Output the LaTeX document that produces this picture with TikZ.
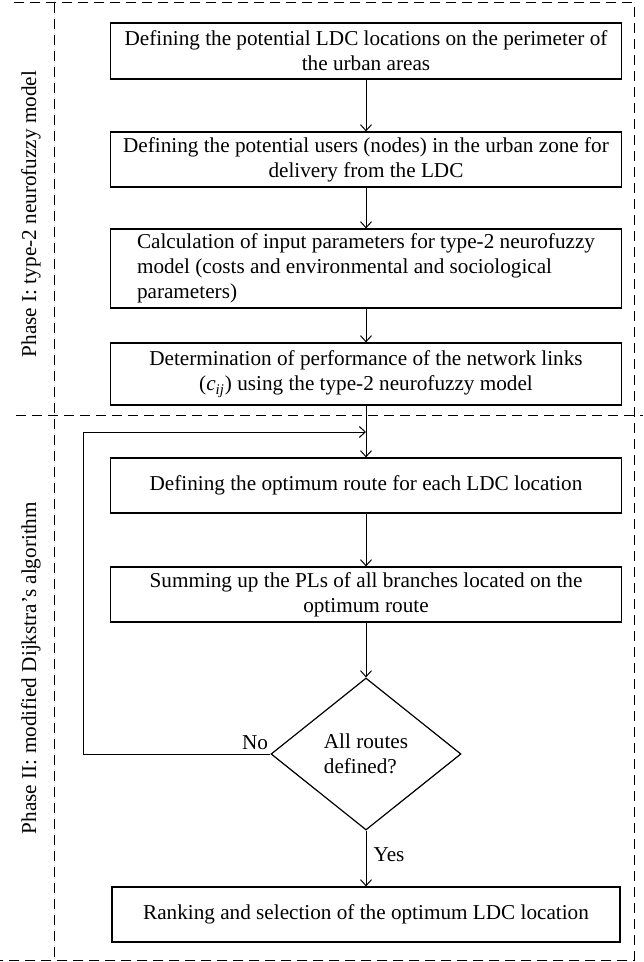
\documentclass[tikz,border=0pt]{standalone}
\usepackage{fontspec}
\setmainfont{Liberation Serif}
\usetikzlibrary{arrows.meta,shapes.geometric}

\begin{document}
\begin{tikzpicture}[x=0.5pt,y=-0.5pt,
    font=\fontsize{10.6}{12.5}\selectfont,
    stage/.style={draw,line width=0.6pt,minimum width=255.5pt,inner sep=0pt,align=center},
    test/.style={draw,diamond,line width=0.6pt,minimum width=95pt,minimum height=76pt,inner sep=0pt,align=left},
    flow/.style={-{Straight Barb[length=3pt,width=5.5pt]},line width=0.5pt},
    frame/.style={dash pattern=on 5pt off 3pt,line width=0.5pt}]
      \useasboundingbox (0,0) rectangle (643,962);
      \draw[frame] (14,3) -- (634,3) -- (634,960) -- (0,960);
      \draw[frame] (54,3) -- (54,962);
      \draw[frame] (16,415) -- (643,415);
      \node[rotate=90] (ph1) at (31,214) {Phase I: type-2 neurofuzzy model};
      \node[rotate=90] (ph2) at (31,668) {Phase II: modified Dijkstra’s algorithm};
      \node[stage,minimum height=28pt] (b1) at (366,51) {Defining the potential LDC locations on the perimeter of\\the urban areas};
      \node[stage,minimum height=27.5pt] (b2) at (366,159.5) {Defining the potential users (nodes) in the urban zone for\\delivery from the LDC};
      \node[stage,align=left,minimum height=39.5pt] (b3) at (366,268.5) {Calculation of input parameters for type-2 neurofuzzy\\model (costs and environmental and sociological\\parameters)};
      \node[stage,minimum height=31pt] (b4) at (366,374) {Determination of performance of the network links\\(\textit{c}\textsubscript{\textit{ij}}) using the type-2 neurofuzzy model};
      \node[stage,minimum height=27.5pt] (b5) at (366,485.5) {Defining the optimum route for each LDC location};
      \node[stage,minimum height=27.5pt] (b6) at (366,594.5) {Summing up the PLs of all branches located on the\\optimum route};
      \node[test] (dia) at (366,754) {All routes\\defined?};
      \node[stage,minimum width=254pt,minimum height=27.5pt] (b7) at (366,914.5) {Ranking and selection of the optimum LDC location};
      \foreach \a/\b in {b1/b2,b2/b3,b3/b4,b4/b5,b5/b6,b6/dia,dia/b7}
        \draw[flow] (\a.south) -- (\b.north);
      \coordinate (back) at (83,754);
      \coordinate (join) at (366,432);
      \draw[flow] (dia.west) -- (back) |- (join);
      \node (no) at (255,743) {No};
      \node (yes) at (389,855) {Yes};
\end{tikzpicture}
\end{document}
